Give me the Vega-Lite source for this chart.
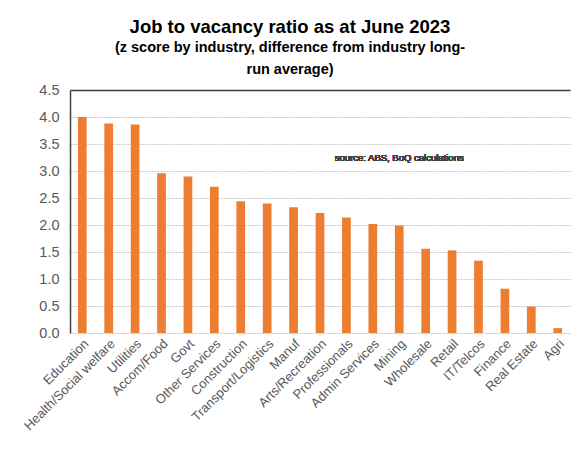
{
  "$schema": "https://vega.github.io/schema/vega-lite/v6.json",
  "width": 500,
  "height": 243,
  "autosize": {"type": "none"},
  "padding": {"left": 70, "top": 90, "right": 1, "bottom": 122},
  "config": {
    "font": "Liberation Sans",
    "view": {"stroke": null},
    "axis": {"labelFont": "Liberation Sans", "labelColor": "#595959"}
  },
  "title": {
    "text": "Job to vacancy ratio as at June 2023",
    "subtitle": ["(z score by industry, difference from industry long-", "run average)"],
    "anchor": "middle",
    "dx": -30,
    "offset": 6,
    "fontSize": 18.5,
    "fontWeight": "bold",
    "color": "#000000",
    "font": "Liberation Sans",
    "subtitleFont": "Liberation Sans",
    "subtitleFontSize": 14.5,
    "subtitleFontWeight": "bold",
    "subtitleColor": "#000000",
    "subtitlePadding": 4,
    "subtitleLineHeight": 22
  },
  "data": {
    "values": [
      {"industry": "Education", "z": 4.0},
      {"industry": "Health/Social welfare", "z": 3.88},
      {"industry": "Utilities", "z": 3.86},
      {"industry": "Accom/Food", "z": 2.96},
      {"industry": "Govt", "z": 2.9},
      {"industry": "Other Services", "z": 2.71},
      {"industry": "Construction", "z": 2.44},
      {"industry": "Transport/Logistics", "z": 2.4},
      {"industry": "Manuf", "z": 2.33},
      {"industry": "Arts/Recreation", "z": 2.22},
      {"industry": "Professionals", "z": 2.14},
      {"industry": "Admin Services", "z": 2.02},
      {"industry": "Mining", "z": 1.99},
      {"industry": "Wholesale", "z": 1.56},
      {"industry": "Retail", "z": 1.53},
      {"industry": "IT/Telcos", "z": 1.34},
      {"industry": "Finance", "z": 0.82},
      {"industry": "Real Estate", "z": 0.49},
      {"industry": "Agri", "z": 0.09}
    ]
  },
  "resolve": {"axis": {"x": "independent"}},
  "layer": [
    {
      "mark": {"type": "bar", "color": "#ED7D31"},
      "encoding": {
        "x": {
          "field": "industry",
          "type": "nominal",
          "sort": null,
          "scale": {"paddingInner": 0.67, "paddingOuter": 0.3},
          "axis": {
            "title": null,
            "labelAngle": -45,
            "labelFontSize": 13,
            "ticks": false,
            "domainColor": "#d9d9d9",
            "labelPadding": 4
          }
        },
        "y": {
          "field": "z",
          "type": "quantitative",
          "scale": {"domain": [0, 4.5], "nice": false},
          "axis": {
            "title": null,
            "values": [0, 0.5, 1, 1.5, 2, 2.5, 3, 3.5, 4, 4.5],
            "tickCount": 10,
            "format": ".1f",
            "labelFontSize": 14.5,
            "labelOverlap": false,
            "labelFlush": false,
            "labelBound": false,
            "ticks": false,
            "labelPadding": 11,
            "domainColor": "#404040",
            "domainWidth": 1.5,
            "gridColor": "#c8c8c8",
            "gridDash": [2, 1]
          }
        }
      }
    },
    {
      "mark": {"type": "text", "fontSize": 9.5, "fontWeight": "normal", "color": "#404040", "align": "center", "baseline": "middle"},
      "encoding": {
        "x": {
          "datum": "Mining",
          "axis": {"orient": "top", "labels": false, "ticks": false, "title": null, "domainColor": "#404040", "domainWidth": 1.5}
        },
        "y": {"datum": 3.24},
        "text": {"value": "source:  ABS, BoQ calculations"}
      }
    }
  ]
}
